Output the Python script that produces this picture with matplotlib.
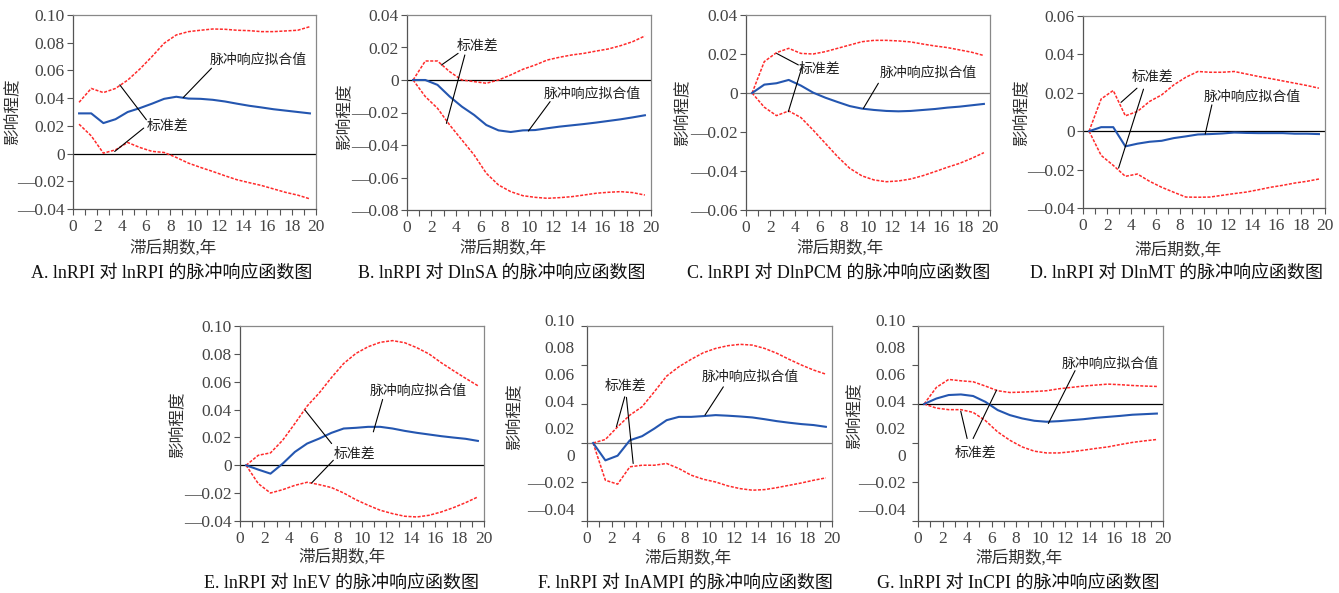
import numpy as np
import matplotlib.pyplot as plt

plt.rcParams['font.family'] = ['Liberation Serif', 'Noto Sans CJK SC']

periods = np.arange(1, 21)

# A. lnRPI -> lnRPI
a_irf = [0.029, 0.029, 0.022, 0.0248, 0.030, 0.0328, 0.036, 0.0395, 0.041, 0.0397,
         0.0395, 0.0388, 0.0376, 0.036, 0.0345, 0.0333, 0.032, 0.031, 0.030, 0.029]
a_up = [0.037, 0.047, 0.044, 0.047, 0.053, 0.061, 0.070, 0.0796, 0.0856, 0.088,
        0.089, 0.0899, 0.0897, 0.089, 0.0887, 0.088, 0.088, 0.0885, 0.089, 0.0916]
a_lo = [0.0212, 0.0128, 0.0003, 0.0027, 0.008, 0.0044, 0.0016, 0.0008, -0.0028, -0.0069,
        -0.010, -0.0129, -0.016, -0.0189, -0.021, -0.023, -0.0255, -0.028, -0.030, -0.0327]

# B. lnRPI -> DlnSA
b_irf = [0.0, 0.0, -0.003, -0.0102, -0.0164, -0.0215, -0.0277, -0.031, -0.032, -0.031,
         -0.0308, -0.0297, -0.0287, -0.0279, -0.0271, -0.0262, -0.0252, -0.0242, -0.023, -0.0217]
b_up = [0.0, 0.0117, 0.0117, 0.0051, 0.0, -0.001, -0.002, 0.0, 0.0031, 0.0066,
        0.0092, 0.0123, 0.014, 0.0154, 0.0164, 0.0178, 0.0191, 0.0211, 0.0236, 0.0271]
b_lo = [0.0, -0.0102, -0.0174, -0.0277, -0.0369, -0.0461, -0.0574, -0.0646, -0.0687, -0.0712,
        -0.0722, -0.0728, -0.0724, -0.0718, -0.0708, -0.0697, -0.0691, -0.0687, -0.0693, -0.0708]

# C. lnRPI -> DlnPCM
c_irf = [0.0, 0.0043, 0.005, 0.0067, 0.0038, 0.0002, -0.0024, -0.0046, -0.0067, -0.008,
         -0.0087, -0.0092, -0.0094, -0.0092, -0.0087, -0.0082, -0.0075, -0.007, -0.0063, -0.0056]
c_up = [0.0, 0.0161, 0.0207, 0.0229, 0.0203, 0.020, 0.0212, 0.0229, 0.0246, 0.0263,
        0.027, 0.027, 0.0267, 0.0262, 0.0251, 0.0241, 0.0233, 0.0221, 0.0209, 0.0192]
c_lo = [0.0, -0.0073, -0.0116, -0.0092, -0.0126, -0.019, -0.0258, -0.0326, -0.0386, -0.0425,
        -0.0446, -0.0455, -0.0451, -0.0441, -0.0424, -0.0403, -0.0381, -0.0361, -0.0335, -0.0306]

# D. lnRPI -> DlnMT
d_irf = [0.0, 0.0021, 0.0021, -0.0079, -0.0065, -0.0055, -0.005, -0.0036, -0.0027, -0.0017,
         -0.0015, -0.0012, -0.0007, -0.0009, -0.001, -0.001, -0.001, -0.0013, -0.0013, -0.0015]
d_up = [0.0, 0.0168, 0.0212, 0.008, 0.0103, 0.0155, 0.0189, 0.0241, 0.0281, 0.0311,
        0.0307, 0.0307, 0.0311, 0.0298, 0.0285, 0.0274, 0.0262, 0.025, 0.0238, 0.0224]
d_lo = [0.0, -0.0126, -0.0178, -0.0235, -0.0223, -0.0261, -0.0292, -0.0318, -0.0343, -0.0344,
        -0.0343, -0.0334, -0.0325, -0.0317, -0.0305, -0.0292, -0.0282, -0.027, -0.0261, -0.0249]

# E. lnRPI -> lnEV
e_irf = [0.0, -0.0031, -0.006, 0.0012, 0.0096, 0.0156, 0.0192, 0.0233, 0.0264, 0.0269,
         0.0276, 0.0276, 0.0264, 0.0247, 0.0233, 0.0221, 0.0209, 0.0199, 0.019, 0.0175]
e_up = [0.0, 0.0072, 0.0089, 0.018, 0.030, 0.0425, 0.052, 0.063, 0.0731, 0.0803,
        0.0851, 0.0883, 0.0895, 0.088, 0.0844, 0.0799, 0.0736, 0.0679, 0.0624, 0.0571]
e_lo = [0.0, -0.0132, -0.0199, -0.0175, -0.0144, -0.0122, -0.0139, -0.016, -0.0199, -0.0247,
        -0.0287, -0.0323, -0.0347, -0.0366, -0.0371, -0.0359, -0.0335, -0.0304, -0.0268, -0.0227]

# F. lnRPI -> InAMPI
f_irf = [0.0, -0.0089, -0.0065, 0.0014, 0.0035, 0.0074, 0.0117, 0.0134, 0.0134, 0.0138,
         0.0143, 0.014, 0.0136, 0.0131, 0.0122, 0.0112, 0.0104, 0.0097, 0.0092, 0.0083]
f_up = [0.0, 0.0018, 0.0083, 0.0143, 0.0186, 0.0263, 0.0343, 0.0391, 0.0429, 0.0463,
        0.0485, 0.0499, 0.0506, 0.0502, 0.0485, 0.046, 0.0429, 0.040, 0.0374, 0.0353]
f_lo = [0.0, -0.0191, -0.0211, -0.0122, -0.0114, -0.0114, -0.0105, -0.0131, -0.0165, -0.0186,
        -0.020, -0.022, -0.0234, -0.0242, -0.0239, -0.0229, -0.0217, -0.0205, -0.0191, -0.0179]

# G. lnRPI -> InCPI
g_irf = [0.0, 0.0028, 0.0046, 0.0049, 0.0041, 0.0011, -0.0031, -0.0057, -0.0074, -0.0086,
         -0.0091, -0.0088, -0.0083, -0.0078, -0.0071, -0.0066, -0.0061, -0.0055, -0.0052, -0.0049]
g_up = [0.0, 0.0085, 0.0126, 0.0119, 0.0114, 0.0092, 0.0068, 0.0059, 0.0061, 0.0064,
        0.0068, 0.0078, 0.0085, 0.0092, 0.0097, 0.0102, 0.0099, 0.0095, 0.0092, 0.009]
g_lo = [0.0, -0.0021, -0.0029, -0.0029, -0.0043, -0.0085, -0.0143, -0.0186, -0.022, -0.0242,
        -0.0251, -0.0251, -0.0245, -0.0237, -0.0228, -0.022, -0.0208, -0.0197, -0.0189, -0.0182]

y_ranges = [(-0.04, 0.10), (-0.08, 0.04), (-0.06, 0.04), (-0.04, 0.06),
            (-0.04, 0.10), (-0.04, 0.06), (-0.06, 0.04)]
# F and G carry a printed label column that does not match their tick marks
odd_labels = ['0.10', '0.08', '0.06', '0.04', '0.02', '0', '—0.02', '—0.04']

captions = ['A. lnRPI 对 lnRPI 的脉冲响应函数图',
            'B. lnRPI 对 DlnSA 的脉冲响应函数图',
            'C. lnRPI 对 DlnPCM 的脉冲响应函数图',
            'D. lnRPI 对 DlnMT 的脉冲响应函数图',
            'E. lnRPI 对 lnEV 的脉冲响应函数图',
            'F. lnRPI 对 InAMPI 的脉冲响应函数图',
            'G. lnRPI 对 InCPI 的脉冲响应函数图']
xlabel = '滞后期数,年'
ylabel = '影响程度'
fit_txt = '脉冲响应拟合值'
std_txt = '标准差'

series = [(a_irf, a_up, a_lo), (b_irf, b_up, b_lo), (c_irf, c_up, c_lo), (d_irf, d_up, d_lo),
          (e_irf, e_up, e_lo), (f_irf, f_up, f_lo), (g_irf, g_up, g_lo)]

W, H = 1339, 593
# axes boxes in pixels: left, right, top, bottom
boxes = [(73, 316, 15, 209), (407, 651, 15, 210), (746, 990, 15, 210), (1083, 1325, 16, 208),
         (240, 484, 326, 521), (587, 832, 326, 521), (918, 1163, 326, 521)]
ylab_pos = [(13, 112), (345, 117), (683, 113), (1022, 113), (178, 425), (515, 417), (855, 416)]
xlab_pos = [(173, 248), (503, 248), (840, 248), (1178, 250), (342, 557), (688, 558), (1019, 558)]
cap_pos = [(172, 273), (502, 273), (839, 273), (1176, 273), (342, 583), (685, 583), (1018, 583)]
zero_col = ['black', 'black', '#777777', 'black', 'black', '#777777', 'black']

# annotation layout (data coords): fit text, fit line, std text, std lines
notes = [
    ((11.26, 0.0676), ((11.4, 0.0616), (9.07, 0.0404)),
     (6.04, 0.020), [((6.04, 0.0244), (3.85, 0.0496)), ((5.82, 0.0184), (3.43, 0.0015))]),
    ((11.18, -0.0086), ((11.73, -0.0133), (9.95, -0.0314)),
     (4.05, 0.0209), [((4.19, 0.0164), (2.82, 0.0092)), ((4.74, 0.0154), (3.23, -0.0267))]),
    ((10.98, 0.0101), ((10.85, 0.005), (9.62, -0.0079)),
     (4.29, 0.0123), [((4.29, 0.0144), (2.51, 0.0203)), ((4.56, 0.0127), (3.47, -0.0096))]),
    ((9.96, 0.0181), ((10.65, 0.0137), (10.1, -0.0015)),
     (4.04, 0.0281), [((4.46, 0.0224), (3.14, 0.015)), ((5.0, 0.0219), (2.94, -0.0192))]),
    ((10.66, 0.0535), ((11.69, 0.0473), (10.93, 0.024)),
     (7.65, 0.008), [((7.51, 0.0156), (5.33, 0.0396)), ((7.65, 0.0036), (5.87, -0.0127))]),
    ((9.36, 0.034), ((11.13, 0.0288), (9.63, 0.0143)),
     (1.45, 0.0292), [((3.08, 0.0237), (2.4, 0.0083)), ((3.22, 0.0234), (3.77, -0.0105))]),
    ((11.73, 0.0203), ((12.82, 0.0171), (10.64, -0.01)),
     (3.0, -0.025), [((4.01, -0.0177), (3.49, -0.0037)), ((4.5, -0.0177), (6.41, 0.0071))]),
]

cjk = ['Noto Sans CJK SC']


def fmt(v):
    if abs(v) < 1e-9:
        return '0'
    if v < 0:
        return '—%.2f' % abs(v)
    return '%.2f' % v


fig = plt.figure(figsize=(W / 100, H / 100), dpi=100)
x = periods - 0.5

for i, (irf, up, lo) in enumerate(series):
    l, r, t, b = boxes[i]
    ax = fig.add_axes([l / W, 1 - b / H, (r - l) / W, (b - t) / H])
    ylo, yhi = y_ranges[i]
    ax.axhline(0, color=zero_col[i], lw=0.9, zorder=1)
    ax.plot(x, up, color='#ff2a2a', lw=1.1, ls=(0, (2, 1)), zorder=2)
    ax.plot(x, lo, color='#ff2a2a', lw=1.1, ls=(0, (2, 1)), zorder=2)
    ax.plot(x, irf, color='#2456b0', lw=1.5, zorder=3)
    ax.set_xlim(0, 20)
    ax.set_ylim(ylo, yhi)
    ax.set_xticks(range(21))
    ax.set_xticklabels([str(k) if k % 2 == 0 else '' for k in range(21)])
    yt = np.round(np.arange(ylo, yhi + 1e-9, 0.02), 2)
    ax.set_yticks(yt)
    if i >= 5:
        ax.set_yticklabels([])
        n = len(odd_labels)
        for k, s in enumerate(odd_labels):
            yf = 1.022 - k * (1.022 - 0.051) / (n - 1)
            ax.text(-0.05, yf, s, transform=ax.transAxes, ha='right', va='center',
                    fontsize=12.5, color='#444444')
    else:
        ax.set_yticklabels([fmt(v) for v in yt])
    ax.tick_params(axis='both', direction='out', length=4, width=0.8, color='#555555',
                   labelsize=12.5, labelcolor='#444444', pad=2)
    ax.tick_params(axis='x', pad=3)
    for sp in ['left', 'bottom']:
        ax.spines[sp].set_color('#555555')
    for sp in ['top', 'right']:
        ax.spines[sp].set_color('#888888')
    for sp in ax.spines.values():
        sp.set_linewidth(0.9)

    fit_xy, fit_line, std_xy, std_lines = notes[i]
    ax.text(fit_xy[0], fit_xy[1], fit_txt, family=cjk, fontsize=10, ha='left', va='center',
            color='#222222')
    ax.annotate('', xy=fit_line[1], xytext=fit_line[0],
                arrowprops=dict(arrowstyle='-', lw=0.8, color='black', shrinkA=0, shrinkB=0))
    ax.text(std_xy[0], std_xy[1], std_txt, family=cjk, fontsize=10, ha='left', va='center',
            color='#222222')
    for p0, p1 in std_lines:
        ax.annotate('', xy=p1, xytext=p0,
                    arrowprops=dict(arrowstyle='-', lw=0.8, color='black', shrinkA=0, shrinkB=0))

    fig.text(ylab_pos[i][0] / W, 1 - ylab_pos[i][1] / H, ylabel, family=cjk, fontsize=12,
             rotation=90, ha='center', va='center', color='#333333')
    fig.text(xlab_pos[i][0] / W, 1 - xlab_pos[i][1] / H, xlabel, fontsize=12,
             ha='center', va='center', color='#333333')
    fig.text(cap_pos[i][0] / W, 1 - cap_pos[i][1] / H, captions[i], fontsize=13,
             ha='center', va='center', color='#111111')

fig.savefig('out.png', dpi=100)
